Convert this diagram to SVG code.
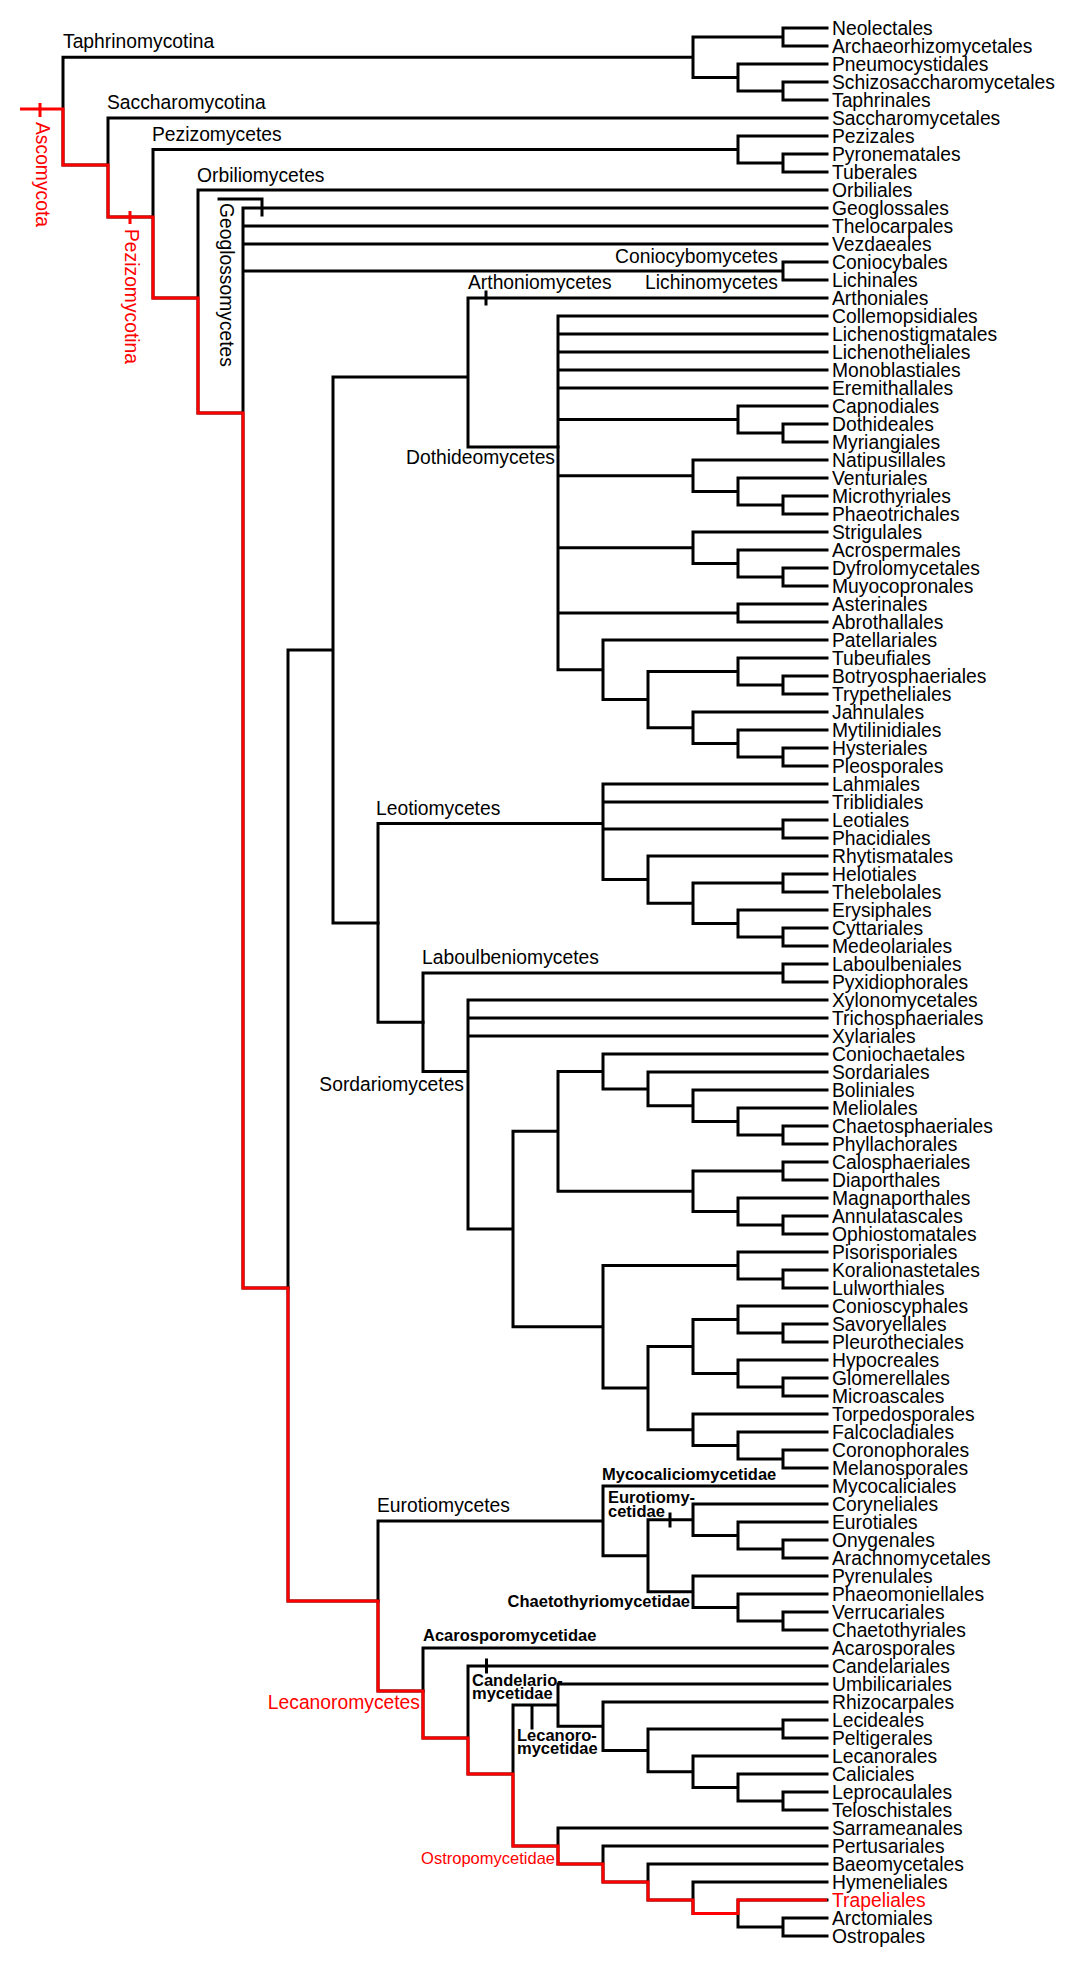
<svg xmlns="http://www.w3.org/2000/svg" width="1077" height="1965" viewBox="0 0 1077 1965">
<style>
text{font-family:"Liberation Sans",Arial,sans-serif;fill:#000}
.lf{font-size:19.3px}
.cl{font-size:19.3px}
.sb{font-size:16.5px;font-weight:bold}
.rd{fill:#f00}
.e{text-anchor:end}
.br{fill:none;stroke:#000;stroke-width:3;stroke-linecap:square}
.rb{fill:none;stroke:#f00;stroke-width:3;stroke-linecap:square}
</style>
<rect width="1077" height="1965" fill="#fff"/>
<g id="connectors">
<path class="br" d="M693,57.25H63V165H108 M783,37H693V77.5H738 M827,28H783V46H827 M827,64H738V91H783 M827,82H783V100H827 M827,118H108V217H153 M738,149.5H153V298H198 M827,136H738V163H783 M827,154H783V172H827 M827,190H198V413H243 M827,208H243V1288H288 M243,226H827 M243,244H827 M243,271H783 M827,262H783V280H827 M219,199H262V215"/>
<path class="br" d="M333,650H288V1601H378 M468,377H333V922.9H378 M827,298H468V447H558 M486,292V304"/>
<path class="br" d="M827,316H558V669.8H603 M558,334H827 M558,352H827 M558,370H827 M558,388H827 M558,419.5H738 M558,475.75H693 M558,547.75H693 M558,613H738 M827,406H738V433H783 M827,424H783V442H827 M827,460H693V491.5H738 M827,478H738V505H783 M827,496H783V514H827 M827,532H693V563.5H738 M827,550H738V577H783 M827,568H783V586H827 M827,604H738V622H827 M827,640H603V699.6H648 M738,671.5H648V727.75H693 M827,658H738V685H783 M827,676H783V694H827 M827,712H693V743.5H738 M827,730H738V757H783 M827,748H783V766H827"/>
<path class="br" d="M603,823.6H378V1022.25H423 M827,784H603V879.6H648 M603,802H827 M603,829H783 M827,820H783V838H827 M827,856H648V903.25H693 M783,883H693V923.5H738 M827,874H783V892H827 M827,910H738V937H783 M827,928H783V946H827"/>
<path class="br" d="M783,973H423V1071.5H468 M827,964H783V982H827 M827,1000H468V1229H513 M468,1018H827 M468,1036H827 M558,1131.3H513V1326.8H603 M603,1071.4H558V1191.25H693 M827,1054H603V1088.9H648 M827,1072H648V1105.75H693 M827,1090H693V1121.5H738 M827,1108H738V1135H783 M827,1126H783V1144H827 M783,1171H693V1211.5H738 M827,1162H783V1180H827 M827,1198H738V1225H783 M827,1216H783V1234H827 M738,1265.5H603V1388.1H648 M827,1252H738V1279H783 M827,1270H783V1288H827 M693,1346.5H648V1429.75H693 M738,1319.5H693V1373.5H738 M827,1306H738V1333H783 M827,1324H783V1342H827 M827,1360H738V1387H783 M827,1378H783V1396H827 M827,1414H693V1445.5H738 M827,1432H738V1459H783 M827,1450H783V1468H827"/>
<path class="br" d="M603,1521H378V1691H423 M827,1486H603V1555.75H648 M693,1519.75H648V1591.75H693 M827,1504H693V1535.5H738 M827,1522H738V1549H783 M827,1540H783V1558H827 M670,1514V1526 M827,1576H693V1607.5H738 M827,1594H738V1621H783 M827,1612H783V1630H827"/>
<path class="br" d="M827,1648H423V1738H468 M827,1666H468V1774H513 M486.5,1660V1672 M558,1705H513V1846H558 M827,1684H558V1726.2H603 M532,1705V1728 M827,1702H603V1750.4H648 M783,1729H648V1771.75H693 M827,1720H783V1738H827 M827,1756H693V1787.5H738 M827,1774H738V1801H783 M827,1792H783V1810H827 M827,1828H558V1864H603 M827,1846H603V1882H648 M827,1864H648V1900H693 M827,1882H693V1913.5H738 M827,1900H738V1927H783 M827,1918H783V1936H827"/>
<path class="rb" d="M21.5,109H63V165H108V217H153V298H198V413H243V1288H288V1601H378V1691H423V1738H468V1774H513V1846H558V1864H603V1882H648V1900H693V1913.5H738V1900H825.5 M40,104.5V115.5 M130,212.5V222.5"/>
</g>
<g id="clade-labels">
<g id="Ascomycota"><text class="cl rd" transform="translate(36,122) rotate(90)">Ascomycota</text></g>
<g id="Pezizomycotina"><text class="cl rd" transform="translate(125,229) rotate(90)">Pezizomycotina</text></g>
<g id="Geoglossomycetes"><text class="cl" transform="translate(220,203) rotate(90)">Geoglossomycetes</text></g>
<g id="Taphrinomycotina"><text class="cl" x="63" y="48">Taphrinomycotina</text></g>
<g id="Saccharomycotina"><text class="cl" x="107" y="109">Saccharomycotina</text></g>
<g id="Pezizomycetes"><text class="cl" x="152" y="140.5">Pezizomycetes</text></g>
<g id="Orbiliomycetes"><text class="cl" x="197" y="181.5">Orbiliomycetes</text></g>
<g id="Arthoniomycetes"><text class="cl" x="468" y="289">Arthoniomycetes</text></g>
<g id="Coniocybomycetes"><text class="cl e" x="778" y="263">Coniocybomycetes</text></g>
<g id="Lichinomycetes"><text class="cl e" x="778" y="289">Lichinomycetes</text></g>
<g id="Dothideomycetes"><text class="cl e" x="555" y="464">Dothideomycetes</text></g>
<g id="Leotiomycetes"><text class="cl" x="376" y="815">Leotiomycetes</text></g>
<g id="Laboulbeniomycetes"><text class="cl" x="422" y="964">Laboulbeniomycetes</text></g>
<g id="Sordariomycetes"><text class="cl e" x="464" y="1091">Sordariomycetes</text></g>
<g id="Eurotiomycetes"><text class="cl" x="377" y="1512">Eurotiomycetes</text></g>
<g id="Mycocaliciomycetidae"><text class="sb" x="602" y="1480">Mycocaliciomycetidae</text></g>
<g id="Eurotiomycetidae"><text class="sb" x="608" y="1503">Eurotiomy-</text><text class="sb" x="608" y="1517">cetidae</text></g>
<g id="Chaetothyriomycetidae"><text class="sb e" x="690" y="1607">Chaetothyriomycetidae</text></g>
<g id="Acarosporomycetidae"><text class="sb" x="423" y="1641">Acarosporomycetidae</text></g>
<g id="Candelariomycetidae"><text class="sb" x="472" y="1685.5">Candelario-</text><text class="sb" x="472" y="1698.5">mycetidae</text></g>
<g id="Lecanoromycetidae"><text class="sb" x="517" y="1740.5">Lecanoro-</text><text class="sb" x="517" y="1753.5">mycetidae</text></g>
<g id="Lecanoromycetes"><text class="cl rd e" x="420" y="1709">Lecanoromycetes</text></g>
<g id="Ostropomycetidae"><text class="rd e" style="font-size:16.5px" x="555" y="1864">Ostropomycetidae</text></g>
</g>
<g id="leaves" class="lf">
<g id="Neolectales"><text class="lf" x="832" y="34.5">Neolectales</text></g>
<g id="Archaeorhizomycetales"><text class="lf" x="832" y="52.5">Archaeorhizomycetales</text></g>
<g id="Pneumocystidales"><text class="lf" x="832" y="70.5">Pneumocystidales</text></g>
<g id="Schizosaccharomycetales"><text class="lf" x="832" y="88.5">Schizosaccharomycetales</text></g>
<g id="Taphrinales"><text class="lf" x="832" y="106.5">Taphrinales</text></g>
<g id="Saccharomycetales"><text class="lf" x="832" y="124.5">Saccharomycetales</text></g>
<g id="Pezizales"><text class="lf" x="832" y="142.5">Pezizales</text></g>
<g id="Pyronematales"><text class="lf" x="832" y="160.5">Pyronematales</text></g>
<g id="Tuberales"><text class="lf" x="832" y="178.5">Tuberales</text></g>
<g id="Orbiliales"><text class="lf" x="832" y="196.5">Orbiliales</text></g>
<g id="Geoglossales"><text class="lf" x="832" y="214.5">Geoglossales</text></g>
<g id="Thelocarpales"><text class="lf" x="832" y="232.5">Thelocarpales</text></g>
<g id="Vezdaeales"><text class="lf" x="832" y="250.5">Vezdaeales</text></g>
<g id="Coniocybales"><text class="lf" x="832" y="268.5">Coniocybales</text></g>
<g id="Lichinales"><text class="lf" x="832" y="286.5">Lichinales</text></g>
<g id="Arthoniales"><text class="lf" x="832" y="304.5">Arthoniales</text></g>
<g id="Collemopsidiales"><text class="lf" x="832" y="322.5">Collemopsidiales</text></g>
<g id="Lichenostigmatales"><text class="lf" x="832" y="340.5">Lichenostigmatales</text></g>
<g id="Lichenotheliales"><text class="lf" x="832" y="358.5">Lichenotheliales</text></g>
<g id="Monoblastiales"><text class="lf" x="832" y="376.5">Monoblastiales</text></g>
<g id="Eremithallales"><text class="lf" x="832" y="394.5">Eremithallales</text></g>
<g id="Capnodiales"><text class="lf" x="832" y="412.5">Capnodiales</text></g>
<g id="Dothideales"><text class="lf" x="832" y="430.5">Dothideales</text></g>
<g id="Myriangiales"><text class="lf" x="832" y="448.5">Myriangiales</text></g>
<g id="Natipusillales"><text class="lf" x="832" y="466.5">Natipusillales</text></g>
<g id="Venturiales"><text class="lf" x="832" y="484.5">Venturiales</text></g>
<g id="Microthyriales"><text class="lf" x="832" y="502.5">Microthyriales</text></g>
<g id="Phaeotrichales"><text class="lf" x="832" y="520.5">Phaeotrichales</text></g>
<g id="Strigulales"><text class="lf" x="832" y="538.5">Strigulales</text></g>
<g id="Acrospermales"><text class="lf" x="832" y="556.5">Acrospermales</text></g>
<g id="Dyfrolomycetales"><text class="lf" x="832" y="574.5">Dyfrolomycetales</text></g>
<g id="Muyocopronales"><text class="lf" x="832" y="592.5">Muyocopronales</text></g>
<g id="Asterinales"><text class="lf" x="832" y="610.5">Asterinales</text></g>
<g id="Abrothallales"><text class="lf" x="832" y="628.5">Abrothallales</text></g>
<g id="Patellariales"><text class="lf" x="832" y="646.5">Patellariales</text></g>
<g id="Tubeufiales"><text class="lf" x="832" y="664.5">Tubeufiales</text></g>
<g id="Botryosphaeriales"><text class="lf" x="832" y="682.5">Botryosphaeriales</text></g>
<g id="Trypetheliales"><text class="lf" x="832" y="700.5">Trypetheliales</text></g>
<g id="Jahnulales"><text class="lf" x="832" y="718.5">Jahnulales</text></g>
<g id="Mytilinidiales"><text class="lf" x="832" y="736.5">Mytilinidiales</text></g>
<g id="Hysteriales"><text class="lf" x="832" y="754.5">Hysteriales</text></g>
<g id="Pleosporales"><text class="lf" x="832" y="772.5">Pleosporales</text></g>
<g id="Lahmiales"><text class="lf" x="832" y="790.5">Lahmiales</text></g>
<g id="Triblidiales"><text class="lf" x="832" y="808.5">Triblidiales</text></g>
<g id="Leotiales"><text class="lf" x="832" y="826.5">Leotiales</text></g>
<g id="Phacidiales"><text class="lf" x="832" y="844.5">Phacidiales</text></g>
<g id="Rhytismatales"><text class="lf" x="832" y="862.5">Rhytismatales</text></g>
<g id="Helotiales"><text class="lf" x="832" y="880.5">Helotiales</text></g>
<g id="Thelebolales"><text class="lf" x="832" y="898.5">Thelebolales</text></g>
<g id="Erysiphales"><text class="lf" x="832" y="916.5">Erysiphales</text></g>
<g id="Cyttariales"><text class="lf" x="832" y="934.5">Cyttariales</text></g>
<g id="Medeolariales"><text class="lf" x="832" y="952.5">Medeolariales</text></g>
<g id="Laboulbeniales"><text class="lf" x="832" y="970.5">Laboulbeniales</text></g>
<g id="Pyxidiophorales"><text class="lf" x="832" y="988.5">Pyxidiophorales</text></g>
<g id="Xylonomycetales"><text class="lf" x="832" y="1006.5">Xylonomycetales</text></g>
<g id="Trichosphaeriales"><text class="lf" x="832" y="1024.5">Trichosphaeriales</text></g>
<g id="Xylariales"><text class="lf" x="832" y="1042.5">Xylariales</text></g>
<g id="Coniochaetales"><text class="lf" x="832" y="1060.5">Coniochaetales</text></g>
<g id="Sordariales"><text class="lf" x="832" y="1078.5">Sordariales</text></g>
<g id="Boliniales"><text class="lf" x="832" y="1096.5">Boliniales</text></g>
<g id="Meliolales"><text class="lf" x="832" y="1114.5">Meliolales</text></g>
<g id="Chaetosphaeriales"><text class="lf" x="832" y="1132.5">Chaetosphaeriales</text></g>
<g id="Phyllachorales"><text class="lf" x="832" y="1150.5">Phyllachorales</text></g>
<g id="Calosphaeriales"><text class="lf" x="832" y="1168.5">Calosphaeriales</text></g>
<g id="Diaporthales"><text class="lf" x="832" y="1186.5">Diaporthales</text></g>
<g id="Magnaporthales"><text class="lf" x="832" y="1204.5">Magnaporthales</text></g>
<g id="Annulatascales"><text class="lf" x="832" y="1222.5">Annulatascales</text></g>
<g id="Ophiostomatales"><text class="lf" x="832" y="1240.5">Ophiostomatales</text></g>
<g id="Pisorisporiales"><text class="lf" x="832" y="1258.5">Pisorisporiales</text></g>
<g id="Koralionastetales"><text class="lf" x="832" y="1276.5">Koralionastetales</text></g>
<g id="Lulworthiales"><text class="lf" x="832" y="1294.5">Lulworthiales</text></g>
<g id="Conioscyphales"><text class="lf" x="832" y="1312.5">Conioscyphales</text></g>
<g id="Savoryellales"><text class="lf" x="832" y="1330.5">Savoryellales</text></g>
<g id="Pleurotheciales"><text class="lf" x="832" y="1348.5">Pleurotheciales</text></g>
<g id="Hypocreales"><text class="lf" x="832" y="1366.5">Hypocreales</text></g>
<g id="Glomerellales"><text class="lf" x="832" y="1384.5">Glomerellales</text></g>
<g id="Microascales"><text class="lf" x="832" y="1402.5">Microascales</text></g>
<g id="Torpedosporales"><text class="lf" x="832" y="1420.5">Torpedosporales</text></g>
<g id="Falcocladiales"><text class="lf" x="832" y="1438.5">Falcocladiales</text></g>
<g id="Coronophorales"><text class="lf" x="832" y="1456.5">Coronophorales</text></g>
<g id="Melanosporales"><text class="lf" x="832" y="1474.5">Melanosporales</text></g>
<g id="Mycocaliciales"><text class="lf" x="832" y="1492.5">Mycocaliciales</text></g>
<g id="Coryneliales"><text class="lf" x="832" y="1510.5">Coryneliales</text></g>
<g id="Eurotiales"><text class="lf" x="832" y="1528.5">Eurotiales</text></g>
<g id="Onygenales"><text class="lf" x="832" y="1546.5">Onygenales</text></g>
<g id="Arachnomycetales"><text class="lf" x="832" y="1564.5">Arachnomycetales</text></g>
<g id="Pyrenulales"><text class="lf" x="832" y="1582.5">Pyrenulales</text></g>
<g id="Phaeomoniellales"><text class="lf" x="832" y="1600.5">Phaeomoniellales</text></g>
<g id="Verrucariales"><text class="lf" x="832" y="1618.5">Verrucariales</text></g>
<g id="Chaetothyriales"><text class="lf" x="832" y="1636.5">Chaetothyriales</text></g>
<g id="Acarosporales"><text class="lf" x="832" y="1654.5">Acarosporales</text></g>
<g id="Candelariales"><text class="lf" x="832" y="1672.5">Candelariales</text></g>
<g id="Umbilicariales"><text class="lf" x="832" y="1690.5">Umbilicariales</text></g>
<g id="Rhizocarpales"><text class="lf" x="832" y="1708.5">Rhizocarpales</text></g>
<g id="Lecideales"><text class="lf" x="832" y="1726.5">Lecideales</text></g>
<g id="Peltigerales"><text class="lf" x="832" y="1744.5">Peltigerales</text></g>
<g id="Lecanorales"><text class="lf" x="832" y="1762.5">Lecanorales</text></g>
<g id="Caliciales"><text class="lf" x="832" y="1780.5">Caliciales</text></g>
<g id="Leprocaulales"><text class="lf" x="832" y="1798.5">Leprocaulales</text></g>
<g id="Teloschistales"><text class="lf" x="832" y="1816.5">Teloschistales</text></g>
<g id="Sarrameanales"><text class="lf" x="832" y="1834.5">Sarrameanales</text></g>
<g id="Pertusariales"><text class="lf" x="832" y="1852.5">Pertusariales</text></g>
<g id="Baeomycetales"><text class="lf" x="832" y="1870.5">Baeomycetales</text></g>
<g id="Hymeneliales"><text class="lf" x="832" y="1888.5">Hymeneliales</text></g>
<g id="Trapeliales"><text class="lf rd" x="832" y="1906.5">Trapeliales</text></g>
<g id="Arctomiales"><text class="lf" x="832" y="1924.5">Arctomiales</text></g>
<g id="Ostropales"><text class="lf" x="832" y="1942.5">Ostropales</text></g>
</g>
</svg>
